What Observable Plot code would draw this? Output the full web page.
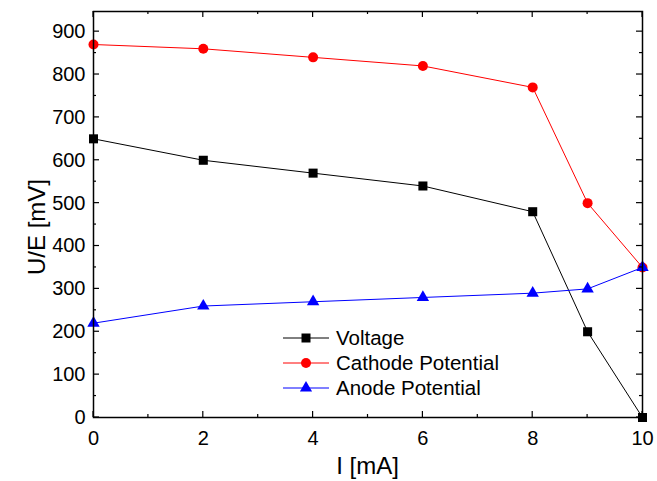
<!DOCTYPE html>
<html><head><meta charset="utf-8">
<script src="https://cdn.jsdelivr.net/npm/d3@7"></script>
<script src="https://cdn.jsdelivr.net/npm/@observablehq/plot@0.6"></script>
<style>body{margin:0;background:#fff}</style>
</head><body><div id="chart"></div>
<script>
const current = [0, 2, 4, 6, 8, 9, 10];
const voltage = [650, 600, 570, 540, 480, 200, 0];
const cathode = [870, 860, 840, 820, 770, 500, 350];
const anode = [220, 260, 270, 280, 290, 300, 350];
const seriesNames = ["Voltage", "Cathode Potential", "Anode Potential"];
const seriesColors = ["#000000", "#ff0000", "#0000ff"];
const seriesSymbols = ["square", "circle", "triangle"];
const xTicks = [0, 2, 4, 6, 8, 10];
const yTicks = [0, 100, 200, 300, 400, 500, 600, 700, 800, 900];

(function () {
const rows = [];
[voltage, cathode, anode].forEach((vals, s) => vals.forEach((v, i) => rows.push({series: seriesNames[s], x: current[i], y: v})));

const font = "Liberation Sans, Arial, sans-serif";
const W = 657, H = 481;
const plot = Plot.plot({
  width: W, height: H,
  marginLeft: 93, marginRight: 15, marginTop: 11, marginBottom: 64,
  style: {fontFamily: font, fontSize: "20px", color: "#000", background: "#fff"},
  x: {domain: [0, 10], ticks: xTicks, tickSize: 0, tickPadding: 13, label: null},
  y: {domain: [0, 947], ticks: yTicks, tickSize: 0, tickPadding: 8, label: null},
  color: {domain: seriesNames, range: seriesColors},
  symbol: {domain: seriesNames, range: seriesSymbols},
  marks: [
    Plot.line(rows, {x: "x", y: "y", z: "series", stroke: "series", strokeWidth: 1}),
    Plot.dot(rows.filter(d => d.series === "Voltage"), {x: "x", y: "y", symbol: "series", fill: "series", r: 5.1}),
    Plot.dot(rows.filter(d => d.series === "Cathode Potential"), {x: "x", y: "y", symbol: "series", fill: "series", r: 5}),
    Plot.dot(rows.filter(d => d.series === "Anode Potential"), {x: "x", y: "y", symbol: "series", fill: "series", r: 4.6}),
    Plot.frame({stroke: "#000", strokeWidth: 1.5})
  ]
});

const svg = d3.select(plot);
const xs = plot.scale("x"), ys = plot.scale("y");
const pl = 93, pr = W - 15, pt = 11, pb = H - 64;
const g = svg.append("g").attr("stroke", "#000").attr("stroke-width", 1.2);
for (let v = 0; v <= 10; v += 1) {
  const px = xs.apply(v), len = v % 2 === 0 ? 6 : 3;
  g.append("line").attr("x1", px).attr("x2", px).attr("y1", pb).attr("y2", pb - len);
  g.append("line").attr("x1", px).attr("x2", px).attr("y1", pt).attr("y2", pt + len);
}
for (let v = 0; v <= 900; v += 50) {
  const py = ys.apply(v), len = v % 100 === 0 ? 6 : 3;
  g.append("line").attr("y1", py).attr("y2", py).attr("x1", pl).attr("x2", pl + len);
  g.append("line").attr("y1", py).attr("y2", py).attr("x1", pr).attr("x2", pr - len);
}
svg.append("text").attr("x", (pl + pr) / 2).attr("y", 474).attr("text-anchor", "middle")
  .style("font-family", font).style("font-size", "24px").attr("fill", "#000").text("I [mA]");
svg.append("text").attr("transform", `translate(45,227) rotate(-90)`).attr("text-anchor", "middle")
  .style("font-family", font).style("font-size", "24px").attr("fill", "#000").text("U/E [mV]");
const leg = svg.append("g").style("font-family", font).style("font-size", "20.5px").attr("text-anchor", "start");
const sym = [d3.symbolSquare, d3.symbolCircle, d3.symbolTriangle];
const symSize = [81, 78, 64];
seriesNames.forEach((name, i) => {
  const y = 338 + i * 25;
  leg.append("line").attr("x1", 283).attr("x2", 329).attr("y1", y).attr("y2", y).attr("stroke", seriesColors[i]).attr("stroke-width", 1);
  leg.append("path").attr("d", d3.symbol(sym[i], symSize[i])()).attr("transform", `translate(306,${y})`).attr("fill", seriesColors[i]);
  leg.append("text").attr("x", 336).attr("y", y).attr("dy", "0.36em").attr("text-anchor", "start").attr("fill", "#000").text(name);
});
document.getElementById("chart").append(plot);
})();
</script></body></html>
